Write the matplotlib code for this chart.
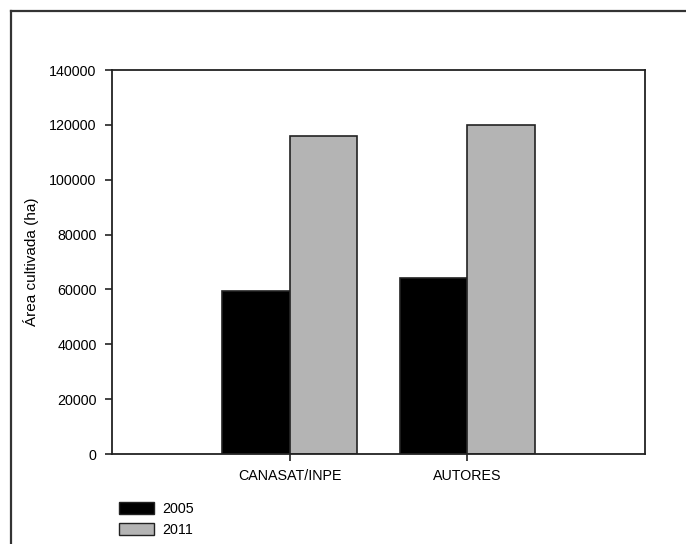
import matplotlib
matplotlib.use("Agg")
import matplotlib.pyplot as plt
from matplotlib.lines import Line2D
from matplotlib.patches import Patch
import numpy as np

plt.rcParams['font.family'] = ['Liberation Sans', 'DejaVu Sans']

categories = ["CANASAT/INPE", "AUTORES"]
years = ["2005", "2011"]
area_2005 = [59500, 64000]
area_2011 = [116000, 120000]
y_ticks = [0, 20000, 40000, 60000, 80000, 100000, 120000, 140000]

W, H = 686, 544
fig = plt.figure(figsize=(W / 100, H / 100), dpi=100)
ax = fig.add_axes([112 / W, 1 - 454 / H, (645 - 112) / W, (454 - 70) / H])

x = np.arange(1, len(categories) + 1)
bw = 0.38
ax.bar(x - bw / 2, area_2005, width=bw, color="black", edgecolor="#222222", linewidth=1.2)
ax.bar(x + bw / 2, area_2011, width=bw, color="#b4b4b4", edgecolor="#222222", linewidth=1.2)

ax.set_xlim(0, 3)
ax.set_ylim(0, 140000)
ax.set_xticks(x)
ax.set_xticklabels(categories)
ax.set_yticks(y_ticks)
ax.set_yticklabels([str(v) for v in y_ticks])
ax.tick_params(direction="out", length=5, width=1.2, colors="#222222",
               labelsize=10.3, labelcolor="black", pad=6)
ax.tick_params(axis="x", pad=6)
for s in ax.spines.values():
    s.set_linewidth(1.3)
    s.set_color("#222222")
ax.set_ylabel("Área cultivada (ha)", fontsize=11, labelpad=7)

handles = [Patch(facecolor="black", edgecolor="#222222"),
           Patch(facecolor="#b4b4b4", edgecolor="#222222")]
fig.legend(handles, years, loc="upper left", bbox_to_anchor=(119 / W, 1 - 502 / H),
           frameon=False, fontsize=10.3, handlelength=2.45, handleheight=0.95,
           handletextpad=0.55, labelspacing=0.45, borderaxespad=0, borderpad=0)

# frame around the figure (top and left edges)
fig.add_artist(Line2D([11 / W, 1], [1 - 11 / H, 1 - 11 / H], color="#333333", linewidth=1.6))
fig.add_artist(Line2D([11 / W, 11 / W], [0, 1 - 11 / H], color="#333333", linewidth=1.6))

fig.savefig("out.png", dpi=100)
